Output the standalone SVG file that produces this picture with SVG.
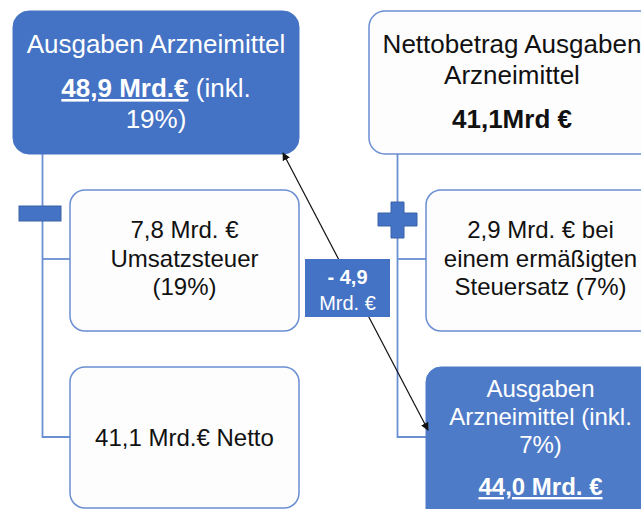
<svg xmlns="http://www.w3.org/2000/svg" width="641" height="509" viewBox="0 0 641 509">
<style>
text{font-family:"Liberation Sans",Arial,sans-serif;text-anchor:middle}
.big{font-size:26px}
.sm{font-size:24px}
.w{fill:#ffffff}
.k{fill:#111111}
.b{font-weight:bold}
.u{text-decoration:underline}
.blue{fill:#4472C4;stroke:#4472C4;stroke-width:1}
.white{fill:#fdfdfd;stroke:#6a8fd2;stroke-width:1.5}
.conn{fill:none;stroke:#6a8fd2;stroke-width:1.8}
.sign{fill:#4472C4;stroke:#3a62a8;stroke-width:1}
</style>
<defs>
<marker id="ah" viewBox="0 0 10 10" refX="9" refY="5" markerWidth="8" markerHeight="8" markerUnits="userSpaceOnUse" orient="auto-start-reverse">
<path d="M0,0 L10,5 L0,10 z" fill="#111"/>
</marker>
</defs>
<rect width="641" height="509" fill="#ffffff"/>
<g id="connectors">
<path class="conn" d="M42.5,154 V437 H70"/>
<path class="conn" d="M42.5,259 H70"/>
<path class="conn" d="M397.5,154 V437 H426"/>
<path class="conn" d="M397.5,259 H426"/>
</g>
<g id="minus">
<rect class="sign" x="19" y="206" width="42" height="15"/>
</g>
<g id="plus">
<path class="sign" d="M391,202 H404 V213 H417 V226 H404 V238 H391 V226 H378 V213 H391 Z"/>
</g>
<g id="box1">
<rect class="blue" x="13" y="11" width="286" height="143" rx="16"/>
<text class="big w" x="156" y="53">Ausgaben Arzneimittel</text>
<text class="big w" x="156" y="97"><tspan class="b u">48,9 Mrd.€</tspan> (inkl.</text>
<text class="big w" x="156" y="128">19%)</text>
</g>
<g id="box2">
<rect class="white" x="369" y="11" width="286" height="143" rx="16"/>
<text class="big k" x="512" y="53">Nettobetrag Ausgaben</text>
<text class="big k" x="512" y="84">Arzneimittel</text>
<text class="big k b" x="512" y="128">41,1Mrd €</text>
</g>
<g id="box3">
<rect class="white" x="70" y="190" width="229" height="141" rx="15"/>
<text class="sm k" x="184.5" y="238">7,8 Mrd. €</text>
<text class="sm k" x="184.5" y="267">Umsatzsteuer</text>
<text class="sm k" x="184.5" y="295">(19%)</text>
</g>
<g id="box4">
<rect class="white" x="70" y="367" width="229" height="141" rx="15"/>
<text class="sm k" x="184.5" y="446">41,1 Mrd.€ Netto</text>
</g>
<g id="box5">
<rect class="white" x="426" y="190" width="229" height="141" rx="15"/>
<text class="sm k" x="540.5" y="238">2,9 Mrd. € bei</text>
<text class="sm k" x="540.5" y="267">einem ermäßigten</text>
<text class="sm k" x="540.5" y="295">Steuersatz (7%)</text>
</g>
<g id="box6">
<rect x="426" y="367" width="229" height="160" rx="15" fill="#4E7BC8" stroke="#4E7BC8"/>
<text class="sm w" x="540.5" y="397">Ausgaben</text>
<text class="sm w" x="540.5" y="425">Arzneimittel (inkl.</text>
<text class="sm w" x="540.5" y="453">7%)</text>
<text class="sm w b u" x="540.5" y="495">44,0 Mrd. €</text>
</g>
<g id="arrow">
<line x1="283" y1="153" x2="428" y2="430" stroke="#111" stroke-width="1.2" marker-start="url(#ah)" marker-end="url(#ah)"/>
</g>
<g id="label">
<rect x="305" y="259" width="85" height="58" fill="#4472C4"/>
<text x="347.5" y="284" class="w b" style="font-size:20px">- 4,9</text>
<text x="347.5" y="310" class="w" style="font-size:20px">Mrd. €</text>
</g>
</svg>
